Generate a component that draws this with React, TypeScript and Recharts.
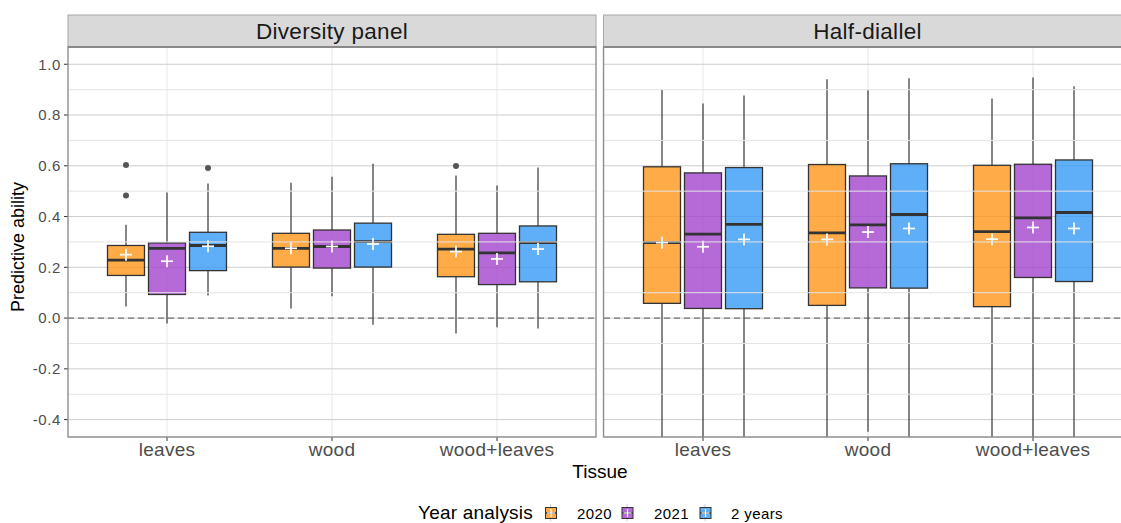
import { ComposedChart, Bar, XAxis, YAxis, CartesianGrid, ReferenceLine } from "recharts";

const tissues = ["leaves", "wood", "wood+leaves"];
const years = ["2020", "2021", "2 years"];
const yearKeys = ["s2020", "s2021", "s2y"];
const yearColors = ["#FF961A", "#A245CE", "#369AF6"];

// per tissue: [lower whisker, Q1, median, Q3, upper whisker, mean]
const diversity2020 = [
  [0.046, 0.168, 0.228, 0.286, 0.368, 0.25],
  [0.038, 0.201, 0.275, 0.334, 0.533, 0.275],
  [-0.061, 0.163, 0.272, 0.33, 0.562, 0.262],
];
const diversity2021 = [
  [-0.021, 0.093, 0.275, 0.296, 0.495, 0.224],
  [0.086, 0.197, 0.282, 0.347, 0.557, 0.282],
  [-0.036, 0.132, 0.257, 0.334, 0.522, 0.233],
];
const diversity2y = [
  [0.089, 0.187, 0.286, 0.338, 0.53, 0.283],
  [-0.026, 0.201, 0.301, 0.374, 0.608, 0.292],
  [-0.041, 0.143, 0.297, 0.363, 0.593, 0.272],
];
const diversityOutliers2020 = [[0.603, 0.483], [], [0.599]];
const diversityOutliers2021 = [[], [], []];
const diversityOutliers2y = [[0.591], [], []];

const diallel2020 = [
  [-0.6, 0.058, 0.297, 0.596, 0.9, 0.297],
  [-0.6, 0.05, 0.336, 0.605, 0.941, 0.31],
  [-0.6, 0.045, 0.341, 0.602, 0.865, 0.311],
];
const diallel2021 = [
  [-0.6, 0.038, 0.331, 0.572, 0.845, 0.281],
  [-0.448, 0.119, 0.367, 0.56, 0.898, 0.339],
  [-0.6, 0.16, 0.395, 0.606, 0.948, 0.357],
];
const diallel2y = [
  [-0.6, 0.037, 0.369, 0.593, 0.877, 0.31],
  [-0.6, 0.118, 0.408, 0.608, 0.945, 0.353],
  [-0.6, 0.144, 0.416, 0.623, 0.913, 0.353],
];
const noOutliers = [[], [], []];

const yTicks = [-0.4, -0.2, 0, 0.2, 0.4, 0.6, 0.8, 1.0];
const yMinor = [-0.3, -0.1, 0.1, 0.3, 0.5, 0.7, 0.9];
const yDomain: [number, number] = [-0.4685, 1.068];

const FONT = "'Liberation Sans', Arial, Helvetica, sans-serif";

function buildRows(s: number[][][], o: number[][][]) {
  return tissues.map((t, i) => ({
    tissue: t,
    s2020: s[0][i],
    s2021: s[1][i],
    s2y: s[2][i],
    o2020: o[0][i],
    o2021: o[1][i],
    o2y: o[2][i],
  }));
}

const diversityRows = buildRows(
  [diversity2020, diversity2021, diversity2y],
  [diversityOutliers2020, diversityOutliers2021, diversityOutliers2y]
);
const diallelRows = buildRows([diallel2020, diallel2021, diallel2y], [noOutliers, noOutliers, noOutliers]);

function makeBoxShape(key: string, outKey: string, color: string) {
  return (props: any) => {
    const { x, y, width, height, payload } = props;
    const s: number[] = payload[key];
    const outs: number[] = payload[outKey] || [];
    const [lo, q1, med, q3, hi, mean] = s;
    const k = height / (q3 - q1);
    const yOf = (v: number) => y + (q3 - v) * k;
    const top = yOf(yDomain[1]);
    const bottom = yOf(yDomain[0]);
    const clamp = (p: number) => Math.max(top, Math.min(bottom, p));
    const cx = x + width / 2;
    const my = yOf(mean);
    return (
      <g>
        <line x1={cx} x2={cx} y1={clamp(yOf(hi))} y2={yOf(q3)} stroke="#454545" strokeWidth={1.3} />
        <line x1={cx} x2={cx} y1={yOf(q1)} y2={clamp(yOf(lo))} stroke="#454545" strokeWidth={1.3} />
        <rect x={x} y={y} width={width} height={height} fill={color} fillOpacity={0.8} stroke="#333" strokeWidth={1.3} />
        <line x1={x} x2={x + width} y1={yOf(med)} y2={yOf(med)} stroke="#333" strokeWidth={2.8} />
        {outs.map((v, i) => (
          <circle key={i} cx={cx} cy={yOf(v)} r={3} fill="#555" />
        ))}
        <line x1={cx - 6} x2={cx + 6} y1={my} y2={my} stroke="#fff" strokeWidth={1.7} />
        <line x1={cx} x2={cx} y1={my - 6} y2={my + 6} stroke="#fff" strokeWidth={1.7} />
      </g>
    );
  };
}

const outKeys = ["o2020", "o2021", "o2y"];

function Panel({ rows, showY, width }: { rows: any[]; showY: boolean; width: number }) {
  return (
    <ComposedChart
      width={width}
      height={523}
      data={rows}
      margin={{ top: 47, right: width - 8 - 528 - (showY ? 60 : 0), bottom: 56, left: 8 }}
      barSize={37}
      barGap={4}
    >
      <CartesianGrid horizontal={false} stroke="#ebebeb" strokeWidth={1.2} />
      {yMinor.map((v) => (
        <ReferenceLine key={v} y={v} stroke="#e4e4e4" strokeWidth={1} />
      ))}
      <CartesianGrid vertical={false} stroke="#cdcdcd" strokeWidth={1} />
      <ReferenceLine y={0} stroke="#555" strokeDasharray="6 4" strokeWidth={1} />
      <XAxis
        dataKey="tissue"
        type="category"
        padding={{ left: 16.5, right: 16.5 }}
        height={30}
        interval={0}
        axisLine={false}
        tickSize={4}
        tickMargin={2}
        tickLine={{ stroke: "#333" }}
        tick={{ fill: "#4d4d4d", fontSize: 19, fontFamily: FONT, letterSpacing: 0.3 }}
      />
      <YAxis
        type="number"
        domain={yDomain}
        allowDataOverflow
        ticks={yTicks}
        interval={0}
        hide={!showY}
        width={60}
        axisLine={false}
        tickSize={4}
        tickMargin={3}
        tickLine={{ stroke: "#333" }}
        tickFormatter={(v: number) => v.toFixed(1)}
        tick={{ fill: "#4d4d4d", fontSize: 15, fontFamily: FONT, letterSpacing: 0.6 }}
      />
      {yearKeys.map((k, i) => (
        <Bar
          key={k}
          dataKey={(d: any) => [d[k][1], d[k][3]]}
          name={years[i]}
          isAnimationActive={false}
          shape={makeBoxShape(k, outKeys[i], yearColors[i])}
        />
      ))}
    </ComposedChart>
  );
}

function LegendKey({ x, color }: { x: number; color: string }) {
  return (
    <g>
      <line x1={x + 5} x2={x + 5} y1={504} y2={521} stroke="#bbb" strokeWidth={0.8} />
      <rect x={x} y={507.5} width={11} height={11} fill={color} fillOpacity={0.8} stroke="#333" strokeWidth={1} />
      <line x1={x} x2={x + 11} y1={513} y2={513} stroke="#333" strokeWidth={1.5} />
      <line x1={x + 1.5} x2={x + 9.5} y1={513} y2={513} stroke="#fff" strokeWidth={1.2} />
      <line x1={x + 5.5} x2={x + 5.5} y1={509} y2={517} stroke="#fff" strokeWidth={1.2} />
    </g>
  );
}

export default function App() {
  const keyX = [545.5, 622, 700];
  const labelX = [577, 654, 731];
  return (
    <div style={{ position: "absolute", left: 0, top: 0, width: 1121, height: 523, overflow: "hidden", background: "#fff", fontFamily: FONT }}>
      <div style={{ position: "absolute", left: 0, top: 0 }}>
        <Panel rows={diversityRows} showY={true} width={600} />
      </div>
      <div style={{ position: "absolute", left: 595.5, top: 0 }}>
        <Panel rows={diallelRows} showY={false} width={545} />
      </div>
      <svg width={1121} height={523} style={{ position: "absolute", left: 0, top: 0, pointerEvents: "none" }}>
        {[68, 603.5].map((px, i) => (
          <g key={i}>
            <rect x={px} y={15} width={528} height={32} fill="#d9d9d9" stroke="#a8a8a8" strokeWidth={1} />
            <line x1={px} x2={px + 528} y1={47} y2={47} stroke="#444" strokeWidth={1.2} />
            <rect x={px} y={47} width={528} height={390} fill="none" stroke="#8c8c8c" strokeWidth={1.3} />
            <text x={px + 264} y={39} textAnchor="middle" fontSize={22.5} fill="#1a1a1a" fontFamily={FONT} letterSpacing={0.3}>
              {i === 0 ? "Diversity panel" : "Half-diallel"}
            </text>
          </g>
        ))}
        <text x={600} y={478} textAnchor="middle" fontSize={19} fill="#000" fontFamily={FONT}>
          Tissue
        </text>
        <text x={24} y={247} textAnchor="middle" fontSize={18} fill="#000" fontFamily={FONT} transform="rotate(-90 24 247)">
          Predictive ability
        </text>
        <text x={418} y={519} fontSize={19} fill="#000" fontFamily={FONT} letterSpacing={0.2}>
          Year analysis
        </text>
        {years.map((yr, i) => (
          <g key={yr}>
            <LegendKey x={keyX[i]} color={yearColors[i]} />
            <text x={labelX[i]} y={519} fontSize={15} fill="#000" fontFamily={FONT} letterSpacing={0.4}>
              {yr}
            </text>
          </g>
        ))}
      </svg>
    </div>
  );
}
